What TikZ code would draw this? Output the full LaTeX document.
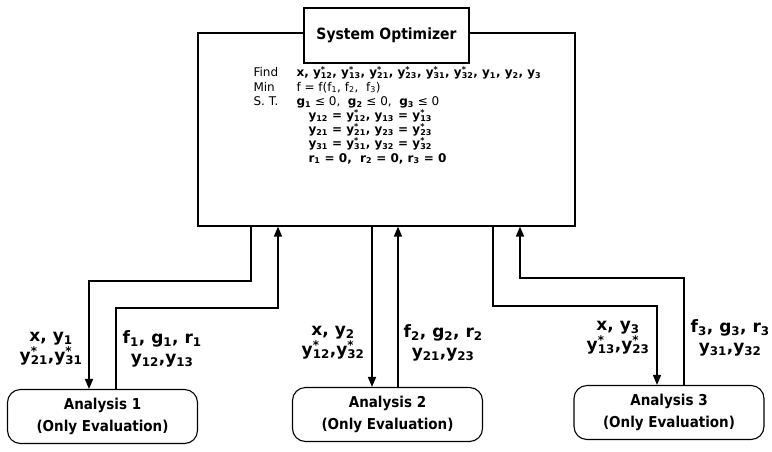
\documentclass[tikz,border=0pt]{standalone}
\usepackage{fontspec}
\setmainfont{DejaVu Sans}
\newfontfamily\headfont{DejaVu Sans}[FakeStretch=0.9]
\usetikzlibrary{arrows.meta}
\newcommand{\yv}[1]{\textbf{y}\textsubscript{\textbf{#1}}}
\newcommand{\ys}[1]{\textbf{y}\rlap{\textsuperscript{\textbf{*}}}\textsubscript{\textbf{#1}}}
\newcommand{\vb}[2]{\textbf{#1}\textsubscript{\textbf{#2}}}
\newcommand{\rowhead}[1]{\makebox[43pt][l]{#1}}
\setlength{\lineskiplimit}{-30pt}
\setlength{\lineskip}{0pt}

\begin{document}
\begin{tikzpicture}[x=1pt, y=-1pt, line width=1.1pt,
  optbox/.style={draw, minimum width=377pt, minimum height=193pt, inner sep=0pt},
  titlebox/.style={draw, fill=white, minimum width=165pt, minimum height=55pt,
    font=\headfont\bfseries\fontsize{15.5}{18}\selectfont},
  anbox/.style={draw, rounded corners=13pt, minimum width=190pt, minimum height=54pt,
    align=center, font=\headfont\bfseries\fontsize{15}{22}\selectfont},
  lbl/.style={align=center, inner sep=0pt, font=\bfseries\fontsize{17}{20}\selectfont},
  arr/.style={line width=1.6pt, -{Triangle[length=10pt, width=8pt]}}]
  \useasboundingbox (0,0) rectangle (772,451);
  % optimizer
  \node[optbox] (opt) at (386.5,129.5) {};
  \node[titlebox] (title) at (386.5,35.5) {System Optimizer};
  \node[anchor=north west, align=left, inner sep=0pt, font=\fontsize{12}{14.2}\selectfont] (prob) at (253,66)
    {\rowhead{Find}{\bfseries x, \ys{12}, \ys{13}, \ys{21}, \ys{23}, \ys{31}, \ys{32}, \yv{1}, \yv{2}, \yv{3}}\\
     \rowhead{Min}f = f(f\textsubscript{1}, f\textsubscript{2}, \ f\textsubscript{3})\\
     \rowhead{S. T.}\vb{g}{1} ≤ 0, \ \vb{g}{2} ≤ 0, \ \vb{g}{3} ≤ 0\\
     \rowhead{}\hspace{12pt}{\bfseries \yv{12} = \ys{12}, \yv{13} = \ys{13}}\\
     \rowhead{}\hspace{12pt}{\bfseries \yv{21} = \ys{21}, \yv{23} = \ys{23}}\\
     \rowhead{}\hspace{12pt}{\bfseries \yv{31} = \ys{31}, \yv{32} = \ys{32}}\\
     \rowhead{}\hspace{12pt}{\bfseries \vb{r}{1} = 0, \ \vb{r}{2} = 0, \vb{r}{3} = 0}};
  % analyses
  \node[anbox] (an1) at (102.5,416.5) {Analysis 1\\(Only Evaluation)};
  \node[anbox] (an2) at (387.5,414.5) {Analysis 2\\(Only Evaluation)};
  \node[anbox] (an3) at (669,412.5) {Analysis 3\\(Only Evaluation)};
  % line positions
  \foreach \n/\x/\y in {o1/251/0, s1/89/281, t1/116/0, p1/278/308,
                        s2/372/0, p2/398/0,
                        o3/493/0, s3/657/306, t3/684/0, p3/520/278}
    \coordinate (\n) at (\x,\y);
  \draw[arr] (opt.south -| o1) |- (s1) -- (an1.north -| s1);
  \draw[arr] (an1.north -| t1) |- (p1) -- (opt.south -| p1);
  \draw[arr] (opt.south -| s2) -- (an2.north -| s2);
  \draw[arr] (an2.north -| p2) -- (opt.south -| p2);
  \draw[arr] (opt.south -| o3) |- (s3) -- (an3.north -| s3);
  \draw[arr] (an3.north -| t3) |- (p3) -- (opt.south -| p3);
  % exchanged data
  \node[lbl, anchor=east] (in1) at (83,349) {x, \yv{1}\\\ys{21},\ys{31}};
  \node[lbl, anchor=west] (out1) at (122,349) {\vb{f}{1}, \vb{g}{1}, \vb{r}{1}\\\yv{12},\yv{13}};
  \node[lbl, anchor=east] (in2) at (365,343) {x, \yv{2}\\\ys{12},\ys{32}};
  \node[lbl, anchor=west] (out2) at (403,343) {\vb{f}{2}, \vb{g}{2}, \vb{r}{2}\\\yv{21},\yv{23}};
  \node[lbl, anchor=east] (in3) at (650,338) {x, \yv{3}\\\ys{13},\ys{23}};
  \node[lbl, anchor=west] (out3) at (690,338) {\vb{f}{3}, \vb{g}{3}, \vb{r}{3}\\\yv{31},\yv{32}};
\end{tikzpicture}
\end{document}
